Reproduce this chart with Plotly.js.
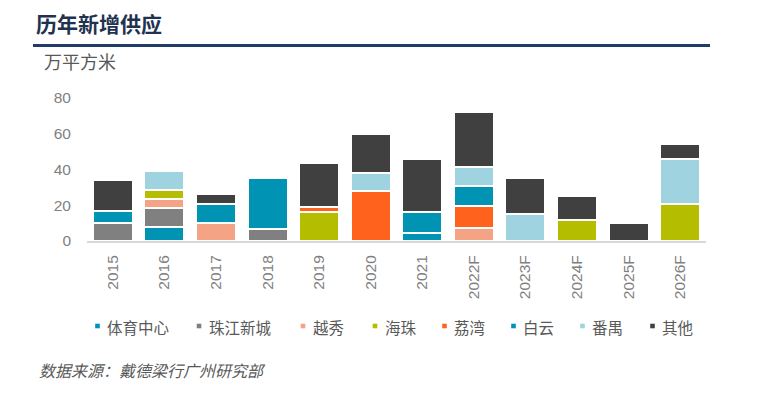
<!DOCTYPE html>
<html>
<head>
<meta charset="utf-8">
<script src="https://cdn.plot.ly/plotly-3.0.1.min.js"></script>
<style>html,body{margin:0;padding:0;background:#fff;}#chart{width:766px;height:399px;}</style>
</head>
<body>
<div id="chart"></div>
<script>
// ---- data ----
var years = ['2015','2016','2017','2018','2019','2020','2021','2022F','2023F','2024F','2025F','2026F'];
var seriesNames = ['体育中心','珠江新城','越秀','海珠','荔湾','白云','番禺','其他'];
var tiyuzhongxin = [0, 8, 0, 0, 0, 0, 4.5, 0, 0, 0, 0, 0];
var zhujiangxincheng = [10, 10.5, 0, 6.5, 0, 0, 0, 0, 0, 0, 0, 0];
var yuexiu = [0, 5, 10, 0, 0, 0, 0, 7, 0, 0, 0, 0];
var haizhu = [0, 5, 0, 0, 16, 0, 0, 0, 0, 12, 0, 20.5];
var liwan = [0, 0, 0, 0, 3, 28, 0, 12.5, 0, 0, 0, 0];
var baiyun = [7, 0, 10.5, 28.5, 0, 0, 12, 11.5, 0, 0, 0, 0];
var panyu = [0, 10.5, 0, 0, 0, 10, 0, 10.5, 15, 0, 0, 25.5];
var qita = [17, 0, 6, 0, 24.5, 22, 29.5, 30.5, 20, 13, 10, 8];
var yTicks = [0, 20, 40, 60, 80];

// ---- styles ----
var colors = ['#0093b4','#808080','#f5a385','#b5bd00','#fe621d','#0093b4','#9fd3df','#404040'];
var allSeries = [tiyuzhongxin, zhujiangxincheng, yuexiu, haizhu, liwan, baiyun, panyu, qita];

var W = 766, H = 399;
var mL = 87, mR = 60, mT = 98, mB = 158;
var pw = W - mL - mR, ph = H - mT - mB;
function px2x(px){ return (px - mL) / pw; }
function px2y(py){ return (H - mB - py) / ph; }

var traces = allSeries.map(function(vals, i){
  return {
    type: 'bar',
    name: seriesNames[i],
    x: years,
    y: vals,
    marker: {color: colors[i], line: {color: '#ffffff', width: 2}},
    showlegend: false,
    hoverinfo: 'x+y+name'
  };
});

var cjk = '"Noto Sans CJK SC", "Microsoft YaHei", sans-serif';
var num = '"Liberation Sans", Arial, sans-serif';

// legend built from the series names/colours
var legendX = [97.5, 199, 303, 375, 444.5, 513.5, 582.5, 652.5];
var legendY = 327;
var shapes = [
  {type: 'line', xref: 'paper', yref: 'paper', x0: px2x(33), x1: px2x(710), y0: px2y(45.5), y1: px2y(45.5),
   line: {color: '#1f3d66', width: 3}}
];
var annotations = [
  {text: '万平方米', xref: 'paper', yref: 'paper', x: px2x(42), y: px2y(61), xanchor: 'left', yanchor: 'middle',
   showarrow: false, font: {family: cjk, size: 18, color: '#595959'}},
  {text: '<i>数据来源：戴德梁行广州研究部</i>', xref: 'paper', yref: 'paper', x: px2x(37), y: px2y(369.5), xanchor: 'left', yanchor: 'middle',
   showarrow: false, font: {family: cjk, size: 16, color: '#595959'}}
];
seriesNames.forEach(function(n, i){
  var cx = legendX[i];
  shapes.push({type: 'rect', xref: 'paper', yref: 'paper', x0: px2x(cx - 2.3), x1: px2x(cx + 2.3),
    y0: px2y(legendY - 1 + 2.3), y1: px2y(legendY - 1 - 2.3), fillcolor: colors[i], line: {width: 0}});
  annotations.push({text: n, xref: 'paper', yref: 'paper', x: px2x(cx + 7.5), y: px2y(legendY), xanchor: 'left', yanchor: 'middle',
    showarrow: false, font: {family: cjk, size: 15.5, color: '#595959'}});
});

var layout = {
  width: W, height: H,
  margin: {l: mL, r: mR, t: mT, b: mB, pad: 0},
  paper_bgcolor: '#ffffff', plot_bgcolor: '#ffffff',
  barmode: 'stack',
  bargap: 0.225,
  showlegend: false,
  title: {text: '<b>历年新增供应</b>', xref: 'container', yref: 'container', x: 36 / W, xanchor: 'left',
          y: 1 - 25 / H, yanchor: 'middle', font: {family: cjk, size: 21, color: '#1f3350'}},
  xaxis: {
    type: 'category', showgrid: false, zeroline: false,
    showline: true, linecolor: '#d9d9d9', linewidth: 2,
    ticks: '', tickangle: -90, ticklabelstandoff: 6,
    tickfont: {family: num, size: 15.5, color: '#7f7f7f'}
  },
  yaxis: {
    range: [0, 80], tickvals: yTicks, showgrid: false, zeroline: false, showline: false,
    ticks: '', ticklabelstandoff: 15,
    tickfont: {family: num, size: 15.5, color: '#7f7f7f'}
  },
  shapes: shapes,
  annotations: annotations
};

Plotly.newPlot('chart', traces, layout, {displayModeBar: false, staticPlot: true});
</script>
</body>
</html>
